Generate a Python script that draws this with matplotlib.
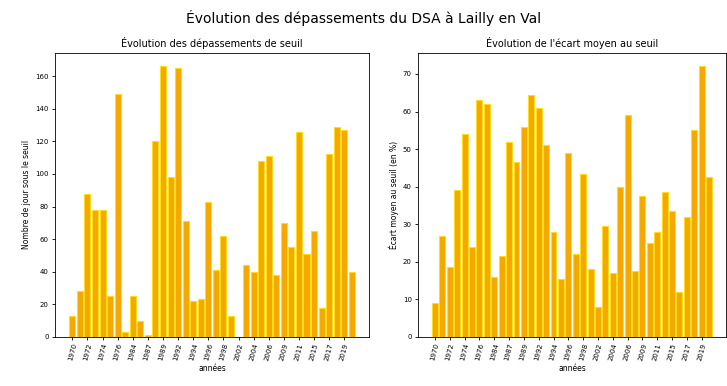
import numpy as np
import matplotlib
matplotlib.use("Agg")
import matplotlib.pyplot as plt

# années de mesure (une barre par année disponible)
annees = ["1970", "1971", "1972", "1973", "1974", "1975", "1976", "1977",
          "1984", "1985", "1987", "1988", "1989", "1990", "1992", "1993",
          "1994", "1995", "1996", "1997", "1998", "1999", "2002", "2003",
          "2004", "2005", "2006", "2007", "2009", "2010", "2011", "2013",
          "2015", "2016", "2017", "2018", "2019", "2020"]

# nombre de jours sous le seuil
nb_jours = [13, 28, 88, 78, 78, 25, 149, 3,
            25, 10, 1, 120, 166, 98, 165, 71,
            22, 23, 83, 41, 62, 13, 0, 44,
            40, 108, 111, 38, 70, 55, 126, 51,
            65, 18, 112, 129, 127, 40]

# écart moyen au seuil (en %)
ecart_moyen = [9, 27, 18.5, 39, 54, 24, 63, 62,
               16, 21.5, 52, 46.5, 56, 64.5, 61, 51,
               28, 15.5, 49, 22, 43.5, 18, 8, 29.5,
               17, 40, 59, 17.5, 37.5, 25, 28, 38.5,
               33.5, 12, 32, 55, 72, 42.5]

bar_color, edge_color = "#f5a800", "#ffdc1e"

fig = plt.figure(figsize=(7.27, 3.86), dpi=100)
ax1 = fig.add_axes([0.0757, 0.127, 0.432, 0.736])
ax2 = fig.add_axes([0.575, 0.127, 0.4237, 0.736])

fig.suptitle("Évolution des dépassements du DSA à Lailly en Val", fontsize=10, y=0.975)

x = np.arange(len(annees))
panels = [
    (ax1, nb_jours, "Évolution des dépassements de seuil", "Nombre de jour sous le seuil"),
    (ax2, ecart_moyen, "Évolution de l'écart moyen au seuil", "Écart moyen au seuil (en %)"),
]
for ax, values, title, ylabel in panels:
    ax.bar(x, values, width=0.8, color=bar_color, edgecolor=edge_color, linewidth=0.8)
    ax.set_title(title, fontsize=7, pad=4)
    ax.set_ylabel(ylabel, fontsize=5.5, labelpad=3)
    ax.set_xlabel("années", fontsize=5.5, labelpad=2)
    ax.set_xticks(x[::2])
    ax.set_xticklabels(annees[::2], rotation=75, fontsize=5)
    ax.tick_params(axis="y", labelsize=5, length=2.5, width=0.6, pad=2)
    ax.tick_params(axis="x", length=2.5, width=0.6, pad=1.5)
    for side in ax.spines.values():
        side.set_linewidth(0.6)

fig.savefig("out.png", dpi=100)
